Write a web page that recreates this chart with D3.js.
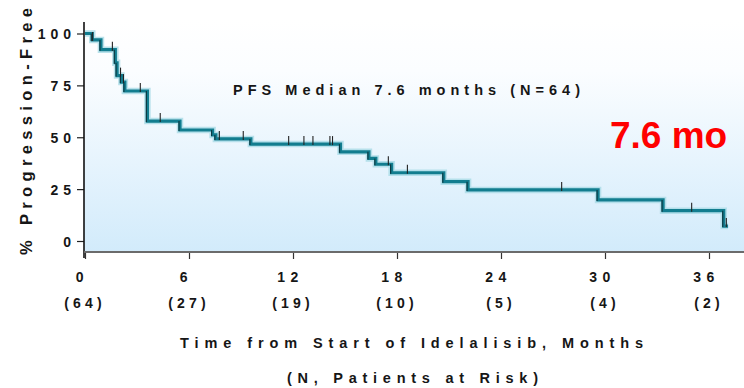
<!DOCTYPE html>
<html>
<head>
<meta charset="utf-8">
<script src="https://cdn.jsdelivr.net/npm/d3@7"></script>
<style>
  html, body { margin: 0; padding: 0; background: #ffffff; }
  svg { display: block; font-family: "Liberation Sans Narrow", "Liberation Sans", Arial, sans-serif; }
</style>
</head>
<body>
<svg id="chart" width="744" height="388"></svg>
<script>
// Kaplan-Meier progression-free survival, idelalisib cohort (N = 64)
const stepMonths = [0, 0.42, 0.92, 1.75, 1.85, 2.1, 2.3, 3.6, 5.48, 7.36, 7.55, 9.57, 14.74, 16.38, 16.78, 17.69, 20.7, 22.1, 29.6, 33.35, 36.85];
const stepPfs    = [100, 96.9, 92.2, 85.9, 79.7, 76.6, 72.3, 57.8, 53.5, 51.1, 49.2, 46.7, 43.0, 39.8, 37.0, 32.9, 28.6, 24.6, 19.8, 14.6, 7.2];
const censorMonths = [0.44, 1.58, 2.05, 2.22, 3.19, 4.34, 7.75, 9.13, 11.75, 12.63, 13.15, 14.13, 14.28, 17.5, 18.6, 27.5, 35.0, 37.0];
const followUpEnd = 37.1;

const xTicks = [0, 6, 12, 18, 24, 30, 36];
const atRisk = [64, 27, 19, 10, 5, 4, 2];
const yTicks = [0, 25, 50, 75, 100];

const svg = d3.select("#chart");
const x = d3.scaleLinear().domain([0, 36]).range([85, 709]);
const y = d3.scaleLinear().domain([0, 100]).range([241, 33.5]);

// plot background: white fading to pale blue toward the time axis
const defs = svg.append("defs");
const grad = defs.append("linearGradient").attr("id", "bg").attr("x1", 0).attr("y1", 0).attr("x2", 0).attr("y2", 1);
grad.append("stop").attr("offset", "0").attr("stop-color", "#ffffff");
grad.append("stop").attr("offset", "0.22").attr("stop-color", "#fbfdff");
grad.append("stop").attr("offset", "1").attr("stop-color", "#d2ebfb");
svg.append("rect").attr("x", 84).attr("y", 20).attr("width", 660).attr("height", 232).attr("fill", "url(#bg)");

// step function value at a given time
const pfsAt = t => {
  let v = stepPfs[0];
  for (let i = 0; i < stepMonths.length; i++) if (stepMonths[i] <= t) v = stepPfs[i];
  return v;
};

const pts = stepMonths.map((m, i) => [m, stepPfs[i]]);
pts.push([followUpEnd, stepPfs[stepPfs.length - 1]]);
const line = d3.line().x(d => x(d[0])).y(d => y(d[1])).curve(d3.curveStepAfter);

svg.append("path").datum(pts).attr("d", line)
  .attr("fill", "none").attr("stroke", "#a9dbe6").attr("stroke-width", 6.5).attr("stroke-opacity", 0.8);
svg.append("path").datum(pts).attr("d", line)
  .attr("fill", "none").attr("stroke", "#127d8f").attr("stroke-width", 3.2);

// darker edge on the drops
const drops = svg.append("g");
for (let i = 1; i < stepMonths.length; i++) {
  drops.append("line")
    .attr("x1", x(stepMonths[i]) - 1).attr("x2", x(stepMonths[i]) - 1)
    .attr("y1", y(stepPfs[i - 1])).attr("y2", y(stepPfs[i]) + 1)
    .attr("stroke", "#0c3b44").attr("stroke-width", 1.2);
}

// censoring marks
svg.append("g").selectAll("line").data(censorMonths).join("line")
  .attr("x1", d => x(d)).attr("x2", d => x(d))
  .attr("y1", d => y(pfsAt(d)) - 8).attr("y2", d => y(pfsAt(d)) + 1)
  .attr("stroke", "#222").attr("stroke-width", 1.1);

// axes
const yAxis = svg.append("g").attr("transform", "translate(84,0)")
  .call(d3.axisLeft(y).tickValues(yTicks).tickSize(7).tickFormat(""));
yAxis.select(".domain").remove();
yAxis.selectAll(".tick line").attr("stroke", "#222").attr("stroke-width", 1.2);
svg.append("line").attr("x1", 84).attr("x2", 84).attr("y1", 22).attr("y2", 258)
  .attr("stroke", "#111").attr("stroke-width", 1.6);

const xAxis = svg.append("g").attr("transform", "translate(0,252)")
  .call(d3.axisBottom(x).tickValues(xTicks).tickSize(7).tickFormat(""));
xAxis.select(".domain").remove();
xAxis.selectAll(".tick line").attr("stroke", "#333").attr("stroke-width", 1.2);
svg.append("line").attr("x1", 84).attr("x2", 744).attr("y1", 252).attr("y2", 252)
  .attr("stroke", "#6b6b6b").attr("stroke-width", 2);

const txt = "#161616";

// y tick labels
svg.append("g").selectAll("text").data(yTicks).join("text")
  .attr("x", 76).attr("y", d => y(d) + 5.5)
  .attr("text-anchor", "end").attr("font-size", 14).attr("font-weight", "bold")
  .attr("letter-spacing", 5).attr("fill", txt).text(d => d);

// x tick labels and numbers at risk
svg.append("g").selectAll("text").data(xTicks).join("text")
  .attr("x", d => x(d) - 2.5).attr("y", 282)
  .attr("text-anchor", "middle").attr("font-size", 14).attr("font-weight", "bold")
  .attr("letter-spacing", 5.5).attr("fill", txt).text(d => d);
svg.append("g").selectAll("text").data(atRisk).join("text")
  .attr("x", (d, i) => x(xTicks[i])).attr("y", 308)
  .attr("text-anchor", "middle").attr("font-size", 14).attr("font-weight", "bold")
  .attr("letter-spacing", 4.2).attr("fill", txt).text(d => `(${d})`);

// titles
svg.append("text").attr("transform", "translate(32,255) rotate(-90)")
  .attr("font-size", 16.5).attr("font-weight", "bold").attr("fill", txt)
  .attr("textLength", 247).attr("lengthAdjust", "spacing")
  .text("%  Progression-Free");

svg.append("text").attr("x", 180).attr("y", 347.5)
  .attr("font-size", 14.5).attr("font-weight", "bold").attr("fill", txt)
  .attr("textLength", 463).attr("lengthAdjust", "spacing")
  .text("Time from  Start of Idelalisib, Months");

svg.append("text").attr("x", 287).attr("y", 383)
  .attr("font-size", 14.5).attr("font-weight", "bold").attr("fill", txt)
  .attr("textLength", 251).attr("lengthAdjust", "spacing")
  .text("(N, Patients at Risk)");

svg.append("text").attr("x", 233).attr("y", 95)
  .attr("font-size", 14.5).attr("font-weight", "bold").attr("fill", txt)
  .attr("textLength", 347).attr("lengthAdjust", "spacing")
  .text("PFS  Median 7.6 months (N=64)");

svg.append("text").attr("x", 610).attr("y", 148)
  .attr("font-family", "'Liberation Sans', Arial, sans-serif")
  .attr("font-size", 37).attr("font-weight", "bold").attr("fill", "#ff0000")
  .text("7.6 mo");
</script>
</body>
</html>
